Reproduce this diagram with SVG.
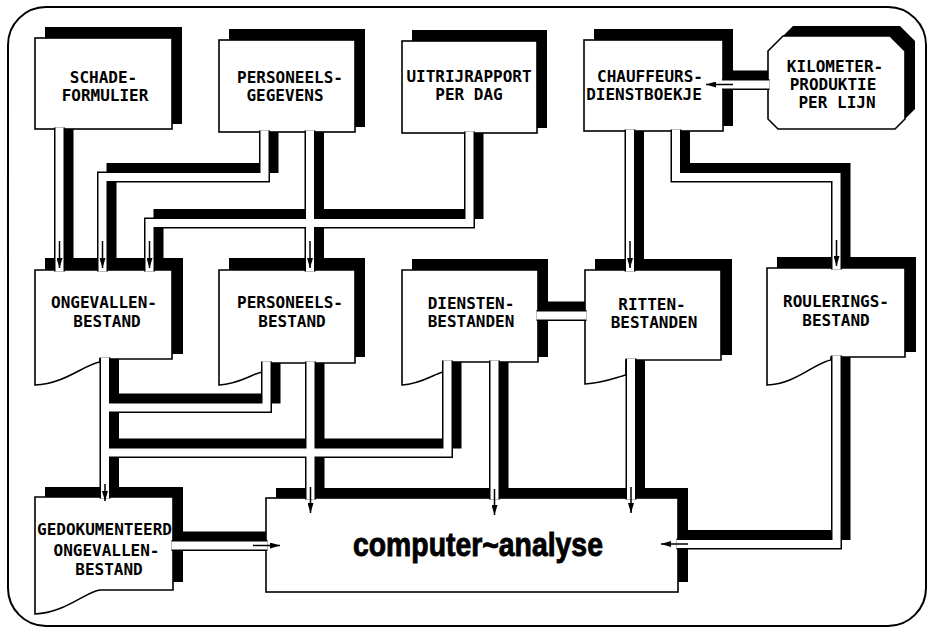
<svg xmlns="http://www.w3.org/2000/svg" width="933" height="630" viewBox="0 0 933 630">
<style>
.sh{fill:#000}
.box{fill:#fff;stroke:#000;stroke-width:1.6;stroke-linejoin:miter}
.t{font-family:"DejaVu Sans Mono","Liberation Mono",monospace;font-weight:bold;font-size:16px;text-anchor:middle;fill:#000}
.big{font-family:"Liberation Sans",Arial,sans-serif;font-weight:bold;font-size:33px;fill:#000;stroke:#000;stroke-width:0.9}
.psh{fill:none;stroke:#000;stroke-width:10;stroke-linejoin:miter}
.pol{fill:none;stroke:#000;stroke-width:11;stroke-linejoin:miter}
.pwh{fill:none;stroke:#fff;stroke-width:8;stroke-linejoin:miter}
.ar{stroke:#000;stroke-width:1.5;fill:none;marker-end:url(#ah)}
</style>
<defs>
<marker id="ah" viewBox="0 0 10 6" refX="10" refY="3" markerWidth="10" markerHeight="6" markerUnits="userSpaceOnUse" orient="auto"><path d="M0,0 L10,3 L0,6 z" fill="#000"/></marker>
<path id="p1" d="M59.5,127.5 V271.5"/>
<path id="p2" d="M264.5,130.5 V177 H102.5 V271.5"/>
<path id="p3" d="M469.5,131.5 V223 H149.5 V271.5"/>
<path id="p4" d="M310,130.5 V271.5"/>
<path id="p5" d="M630,129.5 V271.5"/>
<path id="p6" d="M676,129.5 V177 H836.5 V269.5"/>
<path id="p7" d="M769.5,84.5 H722"/>
<path id="p8" d="M536.5,315.5 H586.5"/>
<path id="p9" d="M105,357.5 V498.5"/>
<path id="p10" d="M266.5,361.5 V407.5 H105"/>
<path id="p11" d="M447.5,360.5 V452.5 H105"/>
<path id="p12" d="M310.5,361.5 V499.5"/>
<path id="p13" d="M494.5,360.5 V499.5"/>
<path id="p14" d="M631,358.5 V499.5"/>
<path id="p15" d="M171.5,545.5 H267.5"/>
<path id="p16" d="M836.5,355.5 V544 H676.5"/>
</defs>
<rect width="933" height="630" fill="#fff"/>
<rect x="8" y="7" width="918" height="619" rx="38" fill="none" stroke="#000" stroke-width="2"/>

<g id="schadeformulier">
<rect class="sh" x="45" y="27" width="137" height="97"/>
<rect class="box" x="35" y="38" width="137" height="91"/>
<text class="t" x="103.5" y="83">SCHADE-</text>
<text class="t" x="105" y="101">FORMULIER</text>
</g>
<g id="personeelsgegevens">
<rect class="sh" x="229" y="29" width="136" height="98"/>
<rect class="box" x="219" y="40" width="136" height="92"/>
<text class="t" x="290" y="83">PERSONEELS-</text>
<text class="t" x="285" y="101">GEGEVENS</text>
</g>
<g id="uitrijrapport">
<rect class="sh" x="412" y="30" width="135" height="98"/>
<rect class="box" x="402" y="41" width="135" height="92"/>
<text class="t" x="469" y="82">UITRIJRAPPORT</text>
<text class="t" x="469" y="100">PER DAG</text>
</g>
<g id="chauffeursdienstboekje">
<rect class="sh" x="594" y="29" width="139" height="97"/>
<rect class="box" x="584" y="40" width="139" height="91"/>
<text class="t" x="650" y="82">CHAUFFEURS-</text>
<text class="t" x="644" y="100">DIENSTBOEKJE</text>
</g>
<g id="kilometerproduktie">
<polygon class="sh" points="793,26 900,26 915,41 915,109 905,119 788,119 778,109 778,41"/>
<polygon class="box" points="783,36 890,36 905,51 905,119 895,129 778,129 768,119 768,51"/>
<text class="t" x="835" y="72">KILOMETER-</text>
<text class="t" x="833" y="90">PRODUKTIE</text>
<text class="t" x="837" y="108">PER LIJN</text>
</g>

<g id="ongevallenbestand">
<rect class="sh" x="45" y="258" width="138" height="96"/>
<path class="box" d="M35,270 H172 V359 H100 V362 C85,364 65,384 35,385 Z"/>
<text class="t" x="104" y="308">ONGEVALLEN-</text>
<text class="t" x="107" y="327">BESTAND</text>
</g>
<g id="personeelsbestand">
<rect class="sh" x="229" y="258" width="136" height="99"/>
<path class="box" d="M219,270 H355 V363 H262 V372 C252,374 239,384 219,385 Z"/>
<text class="t" x="290" y="308">PERSONEELS-</text>
<text class="t" x="292" y="327">BESTAND</text>
</g>
<g id="dienstenbestanden">
<rect class="sh" x="412" y="259" width="136" height="98"/>
<path class="box" d="M402,270 H538 V362 H443 V372 C434,374 421,384 402,385 Z"/>
<text class="t" x="471" y="309">DIENSTEN-</text>
<text class="t" x="471" y="327">BESTANDEN</text>
</g>
<g id="rittenbestanden">
<rect class="sh" x="595" y="259" width="137" height="96"/>
<path class="box" d="M585,270 H721 V360 H626 V375 C617,377 604,383 585,384 Z"/>
<text class="t" x="652" y="310">RITTEN-</text>
<text class="t" x="654" y="328">BESTANDEN</text>
</g>
<g id="rouleringsbestand">
<rect class="sh" x="777" y="257" width="139" height="95"/>
<path class="box" d="M767,268 H905 V357 H831 V360 C816,362 796,384 767,385 Z"/>
<text class="t" x="836" y="307">ROULERINGS-</text>
<text class="t" x="836" y="326">BESTAND</text>
</g>

<g id="gedokumenteerd">
<rect class="sh" x="45" y="487" width="138" height="95"/>
<path class="box" d="M35,497 H173 V590 H100 C85,592 65,613 35,614 Z"/>
<text class="t" x="104.5" y="535">GEDOKUMENTEERD</text>
<text class="t" x="106.5" y="556">ONGEVALLEN-</text>
<text class="t" x="109" y="575">BESTAND</text>
</g>
<g id="computeranalyse">
<rect class="sh" x="276" y="488" width="412" height="94"/>
<rect class="box" x="266" y="498" width="412" height="94"/>
<text class="big" transform="translate(353,556) scale(0.86,1)">computer~analyse</text>
</g>

<g id="connectors">
<g class="psh">
<path d="M68.5,129 V262.5"/>
<path d="M273.5,132 V168 H111.5 V262.5"/>
<path d="M478.5,133 V214 H158.5 V262.5"/>
<path d="M319,132 V262.5"/>
<path d="M639,131 V262.5"/>
<path d="M685,131 V168 H845.5 V260.5"/>
<path d="M768,75.5 H731"/>
<path d="M545.5,306.5 H585"/>
<path d="M114,359 V489.5"/>
<path d="M275.5,363 V398.5 H114"/>
<path d="M456.5,362 V443.5 H114"/>
<path d="M319.5,363 V490.5"/>
<path d="M503.5,362 V490.5"/>
<path d="M640,360 V490.5"/>
<path d="M180.5,536.5 H266"/>
<path d="M845.5,357 V535 H685.5"/>
</g>
<g class="pol">
<use href="#p1"/><use href="#p2"/><use href="#p3"/><use href="#p4"/><use href="#p5"/><use href="#p6"/><use href="#p7"/><use href="#p8"/>
<use href="#p9"/><use href="#p10"/><use href="#p11"/><use href="#p12"/><use href="#p13"/><use href="#p14"/><use href="#p15"/><use href="#p16"/>
</g>
<g class="pwh">
<use href="#p1"/><use href="#p2"/><use href="#p3"/><use href="#p4"/><use href="#p5"/><use href="#p6"/><use href="#p7"/><use href="#p8"/>
<use href="#p9"/><use href="#p10"/><use href="#p11"/><use href="#p12"/><use href="#p13"/><use href="#p14"/><use href="#p15"/><use href="#p16"/>
</g>
<g id="arrows">
<line class="ar" x1="59.5" y1="241" x2="59.5" y2="268"/>
<line class="ar" x1="102.5" y1="241" x2="102.5" y2="268"/>
<line class="ar" x1="149.5" y1="241" x2="149.5" y2="268"/>
<line class="ar" x1="310" y1="241" x2="310" y2="268"/>
<line class="ar" x1="630" y1="241" x2="630" y2="268"/>
<line class="ar" x1="836.5" y1="240" x2="836.5" y2="266"/>
<line class="ar" x1="733" y1="84.5" x2="706" y2="84.5"/>
<line class="ar" x1="105" y1="484" x2="105" y2="501"/>
<line class="ar" x1="310.5" y1="487" x2="310.5" y2="513"/>
<line class="ar" x1="494.5" y1="489" x2="494.5" y2="515"/>
<line class="ar" x1="631" y1="487" x2="631" y2="513"/>
<line class="ar" x1="253" y1="545.5" x2="280" y2="545.5"/>
<line class="ar" x1="688" y1="544" x2="661" y2="544"/>
</g>
</g>
</svg>
